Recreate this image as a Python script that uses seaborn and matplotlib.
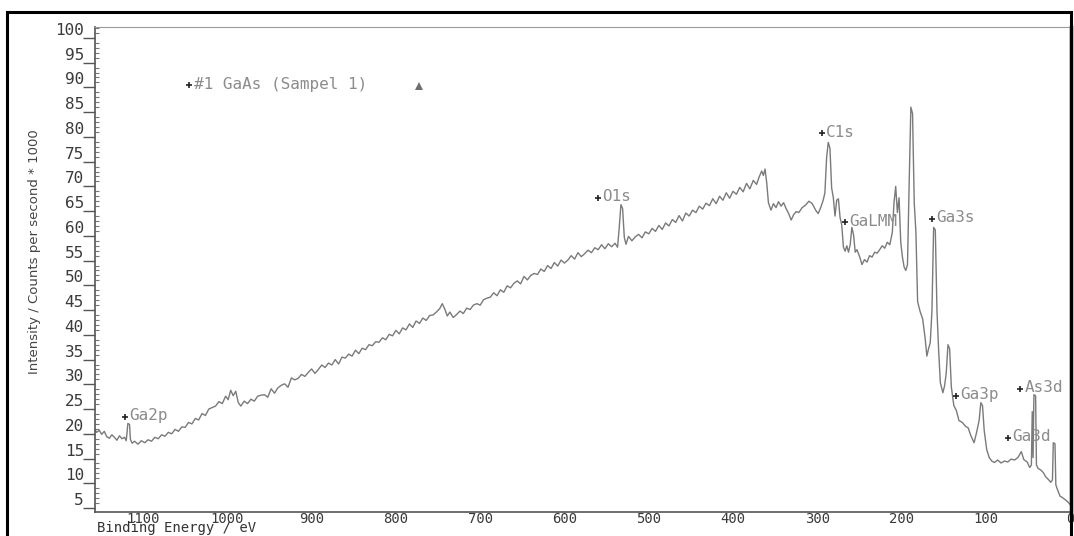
import matplotlib
matplotlib.use("Agg")
import matplotlib.pyplot as plt
from matplotlib.patches import Rectangle
from matplotlib.ticker import MultipleLocator
import seaborn as sns

# XPS survey spectrum of GaAs (sample 1): binding energy (eV) vs counts/s / 1000
binding_energy = [
    1157, 1155, 1152, 1149, 1146, 1143, 1140, 1137, 1134, 1131, 1128, 1125, 1122, 1120,
    1119, 1118, 1116, 1115, 1113, 1110, 1106, 1102, 1098, 1094, 1090, 1086, 1082, 1078,
    1074, 1070, 1066, 1062, 1058, 1054, 1050, 1046, 1042, 1038, 1034, 1030, 1026, 1022,
    1018, 1014, 1010, 1006, 1002, 999, 996, 993, 990, 987, 984, 980, 976, 972, 968, 964,
    960, 956, 952, 948, 944, 940, 936, 932, 928, 924, 920, 916, 912, 908, 904, 900, 896,
    892, 888, 884, 880, 876, 872, 868, 864, 860, 856, 852, 848, 844, 840, 836, 832, 828,
    824, 820, 816, 812, 808, 804, 800, 796, 792, 788, 784, 780, 776, 772, 768, 764, 760,
    756, 752, 748, 745, 742, 739, 736, 732, 728, 724, 720, 716, 712, 708, 704, 700, 696,
    692, 688, 684, 680, 676, 672, 668, 664, 660, 656, 652, 648, 644, 640, 636, 632, 628,
    624, 620, 616, 612, 608, 604, 600, 596, 592, 588, 584, 580, 576, 572, 568, 564, 560,
    556, 552, 548, 544, 540, 537, 535, 533, 531, 529, 527, 524, 520, 516, 512, 508, 504,
    500, 496, 492, 488, 484, 480, 476, 472, 468, 464, 460, 456, 452, 448, 444, 440, 436,
    432, 428, 424, 420, 416, 412, 408, 404, 400, 396, 392, 388, 384, 380, 376, 372, 369,
    366, 364, 362, 360, 358, 355, 352, 349, 346, 343, 340, 337, 334, 331, 328, 325, 322,
    318, 314, 310, 306, 302, 299, 296, 293, 291, 289, 287, 285, 283, 281, 279, 277, 275,
    273, 271, 269, 267, 265, 263, 261, 259, 257, 255, 253, 250, 247, 244, 241, 238, 235,
    232, 229, 226, 223, 220, 217, 214, 211, 209, 207, 205, 203, 201, 199, 197, 195, 193,
    191, 189, 187, 185, 183, 181, 178, 175, 172, 170, 168, 166, 164, 162, 160, 158, 156,
    154, 151, 149, 147, 145, 143, 141, 138, 135, 132, 128, 124, 121, 118, 114, 111, 108,
    106, 104, 102, 99, 96, 93, 90, 86, 82, 78, 74, 70, 66, 62, 58, 55, 51, 48, 46, 45,
    44, 43, 41, 40, 38, 35, 32, 29, 26, 23, 21, 20, 18, 17, 15, 12, 9, 6, 3, 0,
]
intensity = [
    20.8, 20.3, 20.7, 19.9, 20.5, 19.4, 19.1, 19.8, 19.3, 18.7, 19.6, 19.0, 19.3, 18.6,
    20.2, 22.1, 21.9, 18.9, 18.1, 18.5, 17.9, 18.6, 18.2, 18.8, 18.5, 19.3, 19.0, 19.8,
    19.5, 20.3, 20.0, 20.9, 20.5, 21.4, 21.3, 22.3, 22.0, 23.1, 22.8, 24.1, 23.7, 25.0,
    25.3, 25.6, 26.5, 26.1, 27.6, 26.9, 28.8, 27.7, 28.6, 26.3, 25.6, 26.6, 26.1, 27.0, 26.6, 27.6,
    27.8, 27.9, 27.4, 29.1, 28.2, 29.3, 29.8, 30.1, 29.4, 31.3, 30.9, 31.2, 32.0, 31.6, 32.4, 33.1, 32.2,
    33.0, 33.9, 33.4, 34.3, 33.9, 35.0, 34.1, 35.5, 35.3, 36.1, 35.7, 36.9, 36.2, 37.3, 37.0, 38.0, 37.8,
    38.6, 38.5, 39.4, 39.0, 40.1, 39.8, 40.9, 40.2, 41.4, 41.0, 42.2, 41.5, 42.8, 42.3, 43.4, 42.9, 43.9,
    44.0, 44.6, 45.3, 46.3, 45.2, 43.8, 44.6, 43.5, 44.1, 44.8, 44.3, 45.4, 45.1, 46.0, 46.3, 46.0, 47.1,
    47.4, 47.6, 48.5, 47.9, 49.1, 48.6, 49.9, 49.5, 50.4, 50.9, 50.3, 51.8, 51.1, 52.0, 52.4, 52.2, 53.3,
    52.8, 54.0, 53.4, 54.6, 53.9, 55.1, 54.5, 55.1, 56.0, 55.3, 56.6, 55.8, 56.4, 57.1, 56.6, 57.6, 57.2,
    58.2, 57.4, 58.4, 57.8, 58.5, 57.7, 61.7, 66.3, 65.5, 59.7, 58.3, 59.9, 59.0, 59.8, 60.3, 59.6, 60.8,
    60.4, 61.5, 60.9, 62.1, 61.3, 62.6, 62.0, 63.3, 62.7, 64.1, 63.0, 64.6, 64.0, 65.2, 64.7, 66.0, 65.4,
    66.6, 66.1, 67.5, 66.5, 68.0, 67.2, 68.7, 67.6, 69.0, 68.4, 69.8, 68.9, 70.6, 69.5, 71.2, 70.4, 71.9,
    73.1, 72.2, 73.5, 70.7, 66.7, 65.2, 66.5, 65.7, 66.9, 66.0, 66.7, 65.5, 64.5, 63.2, 64.3, 64.9, 64.7,
    65.7, 66.2, 67.0, 66.5, 65.2, 64.5, 65.7, 67.2, 68.7, 75.7, 78.9, 77.7, 69.7, 67.7, 64.0, 67.2, 67.5,
    63.7, 62.2, 57.7, 56.9, 58.0, 56.7, 58.2, 61.7, 60.2, 56.7, 57.2, 55.9, 54.2, 55.2, 54.7, 56.0, 55.7,
    56.7, 56.5, 57.2, 58.0, 57.5, 58.7, 58.2, 60.7, 66.7, 70.0, 64.7, 67.7, 58.7, 55.7, 53.7, 53.0, 54.2,
    70.7, 86.0, 84.7, 66.7, 60.7, 46.7, 44.7, 43.2, 39.2, 35.7, 37.2, 38.4, 44.7, 61.7, 61.2, 44.7, 36.7,
    30.3, 28.3, 29.7, 32.3, 38.0, 37.2, 29.5, 25.7, 24.7, 22.7, 22.3, 21.5, 21.2, 19.7, 18.2, 20.3, 22.7,
    26.3, 25.7, 20.7, 16.8, 15.2, 14.5, 14.2, 14.7, 14.1, 14.5, 14.3, 14.9, 14.7, 15.2, 16.4, 14.8, 14.3, 13.2, 13.7, 24.5,
    15.2, 27.9, 27.7, 13.7, 13.0, 12.7, 12.2, 11.3, 10.8, 10.2, 10.7, 18.2, 18.0, 9.7, 8.7, 7.4, 7.1, 6.7, 6.3, 5.7,
]

# Peak markers: label, binding energy of the "+" marker, intensity of the marker
peak_labels = ["Ga2p", "O1s", "C1s", "GaLMM", "Ga3s", "Ga3p", "As3d", "Ga3d"]
peak_marker_x = [1121, 560, 295, 267, 164, 135, 59, 73.5]
peak_marker_y = [23.4, 67.6, 80.7, 62.7, 63.5, 27.6, 29.0, 19.1]

title_text = "#1 GaAs (Sampel 1)"
title_pos = (1045, 90.4)
triangle_pos = (773, 90.3)

x_ticks = [1100, 1000, 900, 800, 700, 600, 500, 400, 300, 200, 100, 0]
y_ticks = [5, 10, 15, 20, 25, 30, 35, 40, 45, 50, 55, 60, 65, 70, 75, 80, 85, 90, 95, 100]

sns.set_theme(style="white")
plt.rcParams["font.family"] = ["DejaVu Sans Mono", "DejaVu Sans"]

W, H = 1074, 536
fig = plt.figure(figsize=(W / 100, H / 100), dpi=100)
fig.patch.set_facecolor("white")
ax = fig.add_axes([95 / W, 1 - 512 / H, (1071 - 95) / W, (512 - 27) / H])

line_color = "#7a7a7a"
sns.lineplot(x=binding_energy, y=intensity, ax=ax, sort=False, estimator=None,
             color=line_color, linewidth=1.0)

ax.set_xlim(1157, -1)
ax.set_ylim(4.2, 102.2)

ax.set_xticks(x_ticks)
ax.set_xticklabels([str(t) for t in x_ticks])
ax.xaxis.set_minor_locator(MultipleLocator(20))
ax.set_yticks(y_ticks)
ax.set_yticklabels([str(t) for t in y_ticks])
ax.yaxis.set_minor_locator(MultipleLocator(1))

tick_color = "#3a3a3a"
ax.tick_params(axis="x", which="major", direction="in", length=3, width=1.2,
               color="#555555", labelsize=10, labelcolor=tick_color, pad=0)
ax.tick_params(axis="x", which="minor", direction="in", length=2, width=1.2,
               color="#555555")
ax.tick_params(axis="y", which="major", direction="out", length=9, width=1.0,
               color="#555555", labelsize=11.5, labelcolor=tick_color, pad=-1,
               left=True)
ax.tick_params(axis="y", which="minor", direction="in", length=3, width=0.8,
               color="#777777", left=True)
for lbl in ax.get_yticklabels():
    lbl.set_verticalalignment("bottom")

for side in ["left", "bottom"]:
    ax.spines[side].set_color("#555555")
    ax.spines[side].set_linewidth(1.2)
ax.spines["top"].set_color("#9a9a9a")
ax.spines["top"].set_linewidth(0.8)
ax.spines["right"].set_color("black")
ax.spines["right"].set_linewidth(2.5)
ax.set_xlabel("")
ax.set_ylabel("")

label_color = "#8c8c8c"
for name, px, py in zip(peak_labels, peak_marker_x, peak_marker_y):
    ax.plot(px, py, marker="+", color="#222222", markersize=5, markeredgewidth=1.2)
    ax.annotate(name, (px, py), xytext=(3, 1), textcoords="offset points",
                fontsize=11.5, color=label_color, va="center", ha="left",
                annotation_clip=False, clip_on=True)

ax.plot(*title_pos, marker="+", color="#222222", markersize=5, markeredgewidth=1.2)
ax.annotate(title_text, title_pos, xytext=(3, 1), textcoords="offset points",
            fontsize=11.5, color=label_color, va="center", ha="left")
ax.plot(*triangle_pos, marker="^", color="#6e6e6e", markersize=6, markeredgewidth=0)

fig.text(35 / W, 1 - 252 / H, "Intensity / Counts per second * 1000", rotation=90,
         ha="center", va="center", fontsize=9.5, color="#444444",
         family="DejaVu Sans")
fig.text(97 / W, 1 - 535 / H, "Binding Energy / eV", ha="left", va="bottom",
         fontsize=10, color="#333333")

# outer black frame around the plot panel
fig.patches.append(Rectangle((7 / W, -0.05), (1071 - 7) / W, 1.05 - 12 / H,
                             transform=fig.transFigure, fill=False,
                             edgecolor="black", linewidth=2.2))

fig.savefig("out.png", dpi=100)
